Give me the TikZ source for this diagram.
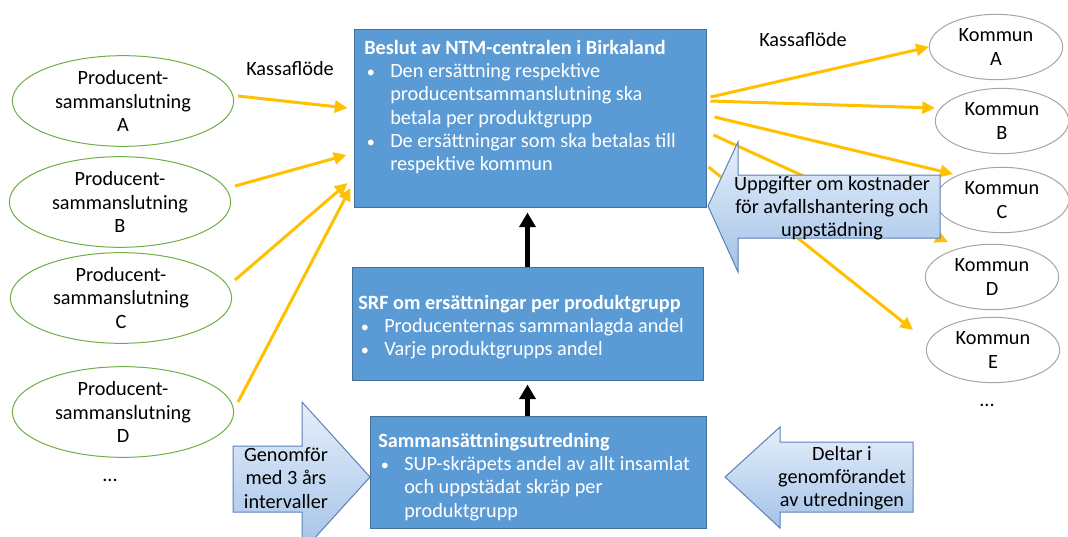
\documentclass[tikz,border=0pt]{standalone}
\usepackage{fontspec}
\setmainfont{Carlito}
\usetikzlibrary{arrows.meta,calc,shapes.geometric}

\definecolor{boxblue}{HTML}{5B9BD5}
\definecolor{boxedge}{HTML}{41719C}
\definecolor{flowgold}{HTML}{FFC000}
\definecolor{prodgreen}{HTML}{70AD47}
\definecolor{munigray}{HTML}{A5A5A5}
\definecolor{calltop}{HTML}{E6EFFA}
\definecolor{callbot}{HTML}{A3C2E8}
\definecolor{calledge}{HTML}{5A82B4}

% bullet and continuation indent for the list lines
\newcommand{\bul}{\makebox[19.5pt][l]{\hspace*{2pt}\scalebox{0.8}{•}}}
\newcommand{\ind}{\hspace*{19.5pt}}

\tikzset{
  txt/.style={font=\fontsize{15.2}{17.4}\selectfont, inner sep=0pt},
  producer/.style={ellipse, draw=prodgreen, line width=0.75pt,
    minimum width=166pt, minimum height=68pt, txt, align=center},
  muni/.style={ellipse, draw=munigray, line width=0.75pt,
    minimum width=100pt, minimum height=49pt, txt, align=center},
  infobox/.style={rectangle, draw=boxedge, fill=boxblue, line width=0.75pt},
  boxtext/.style={txt, text=white, align=left, anchor=north west},
  flow/.style={draw=flowgold, line width=2.25pt,
    -{Triangle[length=9.5pt,width=9pt]}},
  uparrow/.style={draw=black, line width=3.75pt,
    -{Triangle[length=11pt,width=12pt]}},
  callout/.style={draw=calledge, line width=0.75pt,
    top color=calltop, bottom color=callbot},
  calltext/.style={txt, align=center, text=black},
}

\begin{document}
\begin{tikzpicture}[x=0.75pt,y=-0.75pt]
\path[use as bounding box] (0,0) rectangle (1068,536);
\clip (0,0) rectangle (1068,536);

% producer organisations
\node[producer] (pA) at (123,101) {Producent-\\sammanslutning\\A};
\node[producer] (pB) at (120,202) {Producent-\\sammanslutning\\B};
\node[producer] (pC) at (121,298) {Producent-\\sammanslutning\\C};
\node[producer] (pD) at (123,412) {Producent-\\sammanslutning\\D};
\node[txt] (pdots) at (110,480) {...};

% municipalities
\node[muni] (kA) at (996,47)  {Kommun\\A};
\node[muni] (kB) at (1002,121) {Kommun\\B};
\node[muni] (kC) at (1002,200) {Kommun\\C};
\node[muni] (kD) at (992,277) {Kommun\\D};
\node[muni] (kE) at (993,350) {Kommun\\E};
\node[txt] (kdots) at (987,405) {...};

% decision chain
\node[infobox, minimum width=264pt, minimum height=133.5pt] (b1) at (530,118) {};
\node[infobox, minimum width=263.25pt, minimum height=84.75pt] (b2) at (527.5,323.5) {};
\node[infobox, minimum width=252pt, minimum height=84pt] (b3) at (538,472) {};

\node[boxtext] (t1) at (364,40) {%
  \textbf{Beslut av NTM-centralen i Birkaland}\\
  \bul Den ersättning respektive\\
  \ind producentsammanslutning ska\\
  \ind betala per produktgrupp\\
  \bul De ersättningar som ska betalas till\\
  \ind respektive kommun};
\node[boxtext] (t2) at (358,295) {%
  \textbf{SRF om ersättningar per produktgrupp}\\
  \bul Producenternas sammanlagda andel\\
  \bul Varje produktgrupps andel};
\node[boxtext] (t3) at (378,433) {%
  \textbf{Sammansättningsutredning}\\
  \bul SUP-skräpets andel av allt insamlat\\
  \ind och uppstädat skräp per\\
  \ind produktgrupp};

% cash flow labels
\node[txt] (cashin) at (290,69) {Kassaflöde};
\node[txt] (cashout) at (803,40) {Kassaflöde};

% cash flows into the decision
\draw[flow] ($(pA)+(115,-5)$)  -- ($(b1.west)+(-6,-10)$);
\draw[flow] ($(pB)+(115,-16)$) -- ($(b1.west)+(-7,37)$);
\draw[flow] ($(pC)+(114,-18)$) -- ($(b1.west)+(-6,65)$);
\draw[flow] ($(pD)+(115,-10)$) -- ($(b1.west)+(-3,70)$);

% cash flows out to the municipalities
\draw[flow] ($(b1.east)+(4,-21)$) -- (kA.west);
\draw[flow] ($(b1.east)+(4,-17)$) -- ($(kB)+(-67,-13)$);
\draw[flow] ($(b1.east)+(8,-1)$)  -- ($(kC)+(-49,-26)$);
\draw[flow] ($(b1.east)+(7,17)$)  -- ($(kD)+(-44,-35)$);
\draw[flow] ($(b1.east)+(2,49)$)  -- ($(kE)+(-80,-20)$);

% upward steps
\draw[uparrow] (b2.north) -- ($(b2.north |- b1.south)+(0,5)$);
\draw[uparrow] (b2.south |- b3.north) -- ($(b2.south)+(0,4)$);

% block arrows with inputs
\draw[callout] (708,206) -- (738,142) -- (738,175) -- (940,175) -- (940,238)
  -- (738,238) -- (738,272) -- cycle;
\node[calltext] (costs) at (832,208)
  {Uppgifter om kostnader\\för avfallshantering och\\uppstädning};

\draw[callout] (233,446) -- (302,446) -- (302,402) -- (370,477) -- (302,552)
  -- (302,512) -- (233,512) -- cycle;
\node[calltext] (cycle) at (286,478) {Genomför\\med 3 års\\intervaller};

\draw[callout] (725,477) -- (780,427) -- (780,442) -- (913,442) -- (913,512)
  -- (780,512) -- (780,528) -- cycle;
\node[calltext] (joins) at (842,478) {Deltar i\\genomförandet\\av utredningen};
\end{tikzpicture}
\end{document}
